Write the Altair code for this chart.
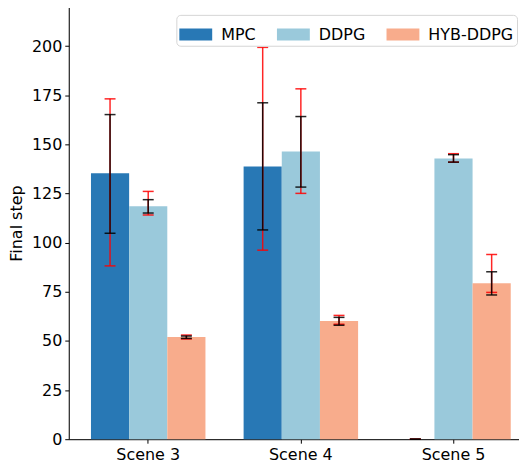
import altair as alt
import pandas as pd

scenes = ["Scene 3", "Scene 4", "Scene 5"]
methods = ["MPC", "DDPG", "HYB-DDPG"]
colors = ["#2878b5", "#9ac9db", "#f8ac8c"]

# bar heights per method (Scene 3, Scene 4, Scene 5)
mpc_mean = [135.3, 138.8, 0.0]
ddpg_mean = [118.5, 146.4, 142.9]
hyb_mean = [52.0, 60.2, 79.4]

# red error bars (low, high)
mpc_red_lo = [88.2, 96.2, 0.0]
mpc_red_hi = [173.2, 199.4, 0.0]
ddpg_red_lo = [114.1, 125.1, 141.0]
ddpg_red_hi = [126.1, 178.3, 145.3]
hyb_red_lo = [51.0, 58.5, 74.7]
hyb_red_hi = [53.0, 63.0, 94.0]

# black error bars (low, high)
mpc_blk_lo = [104.8, 106.5, 0.0]
mpc_blk_hi = [165.2, 171.2, 0.0]
ddpg_blk_lo = [115.1, 128.3, 141.0]
ddpg_blk_hi = [121.9, 164.2, 144.8]
hyb_blk_lo = [51.3, 58.0, 73.4]
hyb_blk_hi = [52.5, 62.0, 85.2]

series = {
    "MPC": (mpc_mean, mpc_red_lo, mpc_red_hi, mpc_blk_lo, mpc_blk_hi),
    "DDPG": (ddpg_mean, ddpg_red_lo, ddpg_red_hi, ddpg_blk_lo, ddpg_blk_hi),
    "HYB-DDPG": (hyb_mean, hyb_red_lo, hyb_red_hi, hyb_blk_lo, hyb_blk_hi),
}

rows = []
for m in methods:
    mean, rlo, rhi, blo, bhi = series[m]
    for i, s in enumerate(scenes):
        rows.append(dict(scene=s, method=m, value=mean[i], rlo=rlo[i], rhi=rhi[i],
                         blo=blo[i], bhi=bhi[i]))
df = pd.DataFrame(rows)

X = alt.X("scene:N", sort=scenes,
          scale=alt.Scale(paddingInner=0.25, paddingOuter=0.1455),
          axis=alt.Axis(title=None, labelAngle=0, labelFontSize=16, labelColor="black",
                        tickColor="black", tickSize=4, domainColor="black", labelPadding=3))
XO = alt.XOffset("method:N", sort=methods, scale=alt.Scale(paddingInner=0, paddingOuter=0))
YS = alt.Scale(domain=[0, 220], nice=False)

base = alt.Chart(df)

bars = base.mark_bar().encode(
    x=X, xOffset=XO,
    y=alt.Y("value:Q", scale=YS,
            axis=alt.Axis(title="Final step", values=list(range(0, 201, 25)), grid=False,
                          labelFontSize=16, titleFontSize=16, titleFontWeight="normal",
                          labelColor="black", titleColor="black", tickColor="black",
                          domainColor="black", tickSize=4, labelPadding=3, titlePadding=7)),
    color=alt.Color("method:N", sort=methods,
                    scale=alt.Scale(domain=methods, range=colors),
                    legend=alt.Legend(title=None, orient="none", legendX=108, legendY=8,
                                      direction="horizontal", zindex=1,
                                      labelFontSize=16, labelColor="black",
                                      symbolType="M-1,-0.36H1V0.36H-1Z", symbolSize=1089,
                                      symbolStrokeWidth=0, columnPadding=21, labelOffset=9,
                                      strokeColor="#d5d5d5", padding=3, cornerRadius=4,
                                      fillColor="white", labelLimit=300)),
)

red_rule = base.mark_rule(color="red", strokeWidth=1.5, opacity=0.85).encode(
    x=X, xOffset=XO, y=alt.Y("rlo:Q", scale=YS), y2="rhi:Q")
red_lo = base.mark_tick(color="red", size=11, thickness=1.5, opacity=0.85).encode(
    x=X, xOffset=XO, y=alt.Y("rlo:Q", scale=YS))
red_hi = base.mark_tick(color="red", size=11, thickness=1.5, opacity=0.85).encode(
    x=X, xOffset=XO, y=alt.Y("rhi:Q", scale=YS))
blk_rule = base.mark_rule(color="black", strokeWidth=1.5, opacity=0.85).encode(
    x=X, xOffset=XO, y=alt.Y("blo:Q", scale=YS), y2="bhi:Q")
blk_lo = base.mark_tick(color="black", size=11, thickness=1.5, opacity=0.85).encode(
    x=X, xOffset=XO, y=alt.Y("blo:Q", scale=YS))
blk_hi = base.mark_tick(color="black", size=11, thickness=1.5, opacity=0.85).encode(
    x=X, xOffset=XO, y=alt.Y("bhi:Q", scale=YS))

chart = alt.layer(bars, red_rule, red_lo, red_hi, blk_rule, blk_lo, blk_hi).properties(
    width=466, height=434, padding={"left": 0, "top": -2, "right": -14, "bottom": 0}
).configure_view(stroke="black", strokeWidth=1).configure(font="DejaVu Sans")

chart.save("out.html", embed_options={"renderer": "svg", "actions": False})
